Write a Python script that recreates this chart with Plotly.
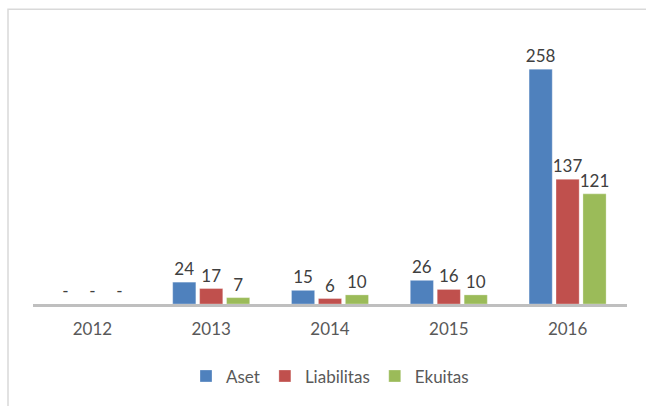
import plotly.graph_objects as go

years = ["2012", "2013", "2014", "2015", "2016"]
aset = [0, 24, 15, 26, 258]
liabilitas = [0, 17, 6, 16, 137]
ekuitas = [0, 7, 10, 10, 121]

series = [("Aset", aset, "#4F81BD"), ("Liabilitas", liabilitas, "#C0504D"), ("Ekuitas", ekuitas, "#9BBB59")]

FONT = "Lato, Open Sans, sans-serif"

fig = go.Figure()
for name, vals, col in series:
    fig.add_trace(go.Bar(
        x=years, y=vals, name=name,
        marker=dict(color=col, line=dict(color="rgba(255,255,255,0.6)", width=0.5)),
        text=[("-" if v == 0 else str(v)) for v in vals],
        textposition="outside", cliponaxis=False, constraintext="none",
        textfont=dict(family=FONT, size=17, color="#404040"),
    ))

fig.update_layout(
    width=646, height=406,
    margin=dict(l=33, r=19, t=20, b=98),
    paper_bgcolor="white", plot_bgcolor="white",
    barmode="group", bargap=0.32, bargroupgap=0.14,
    font=dict(family=FONT, size=17, color="#595959"),
    xaxis=dict(showline=True, linecolor="#BFBFBF", linewidth=3, ticks="", showgrid=False,
               ticklabelstandoff=8, tickfont=dict(size=17, color="#595959")),
    yaxis=dict(visible=False, range=[0, 312]),
    legend=dict(orientation="h", x=0.5, xanchor="center", y=-0.255, yanchor="middle",
                font=dict(size=17, color="#595959"), itemwidth=30, traceorder="normal"),
    showlegend=True,
    shapes=[dict(type="rect", xref="paper", yref="paper",
                 x0=(8 - 33) / 594, x1=1.2, y0=-0.6, y1=(308 - 9) / 288,
                 line=dict(color="#D9D9D9", width=1.5), fillcolor="rgba(0,0,0,0)", layer="below")],
)

fig.write_html("out.html", config={"displayModeBar": False},
               post_script="document.body.style.margin='0';document.body.style.overflow='hidden';")
